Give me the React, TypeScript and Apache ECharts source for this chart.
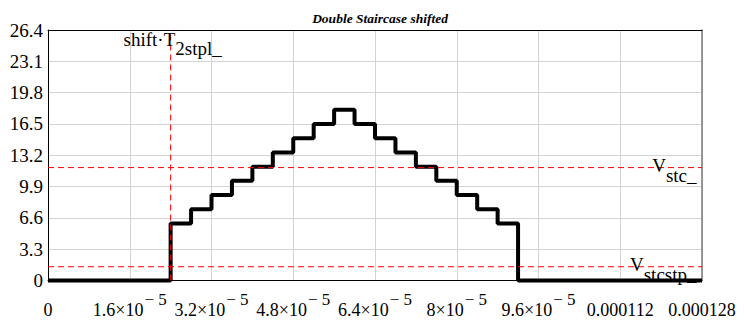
import React, { useEffect, useRef } from 'react';
import * as echarts from 'echarts';

// Step waveform: level holds from stepTimes[i] until stepTimes[i+1]
const stepTimes = [
  0, 2.4e-5, 2.8e-5, 3.2e-5, 3.6e-5, 4.0e-5, 4.4e-5, 4.8e-5, 5.2e-5, 5.6e-5,
  6.0e-5, 6.4e-5, 6.8e-5, 7.2e-5, 7.6e-5, 8.0e-5, 8.4e-5, 8.8e-5, 9.2e-5, 1.28e-4,
];
const stepLevels = [
  0, 6, 7.5, 9, 10.5, 12, 13.5, 15, 16.5, 18,
  16.5, 15, 13.5, 12, 10.5, 9, 7.5, 6, 0, 0,
];

const xTickBase = ['0', '1.6×10', '3.2×10', '4.8×10', '6.4×10', '8×10', '9.6×10', '0.000112', '0.000128'];
const xTickExp = ['', '− 5', '− 5', '− 5', '− 5', '− 5', '− 5', '', ''];
const yTickLabels = ['0', '3.3', '6.6', '9.9', '13.2', '16.5', '19.8', '23.1', '26.4'];

const shiftTime = 2.4e-5;
const vStc = 11.9;
const vStcStp = 1.45;

const X_MAX = 1.28e-4;
const X_STEP = 1.6e-5;
const Y_MAX = 26.4;
const Y_STEP = 3.3;

const FONT = 'Liberation Serif';

export default function App() {
  const ref = useRef<HTMLDivElement>(null);
  useEffect(() => {
    const chart = echarts.init(ref.current as HTMLDivElement, null, { renderer: 'svg' });
    const seriesData = stepTimes.map((t, i) => [t, stepLevels[i]]);
    const red = '#ff0000';
    const dashSeries = (data: number[][], label?: { coord: number[]; text: string; pos: string; dist: number; rich: any; offset?: number[] }) => ({
      type: 'line',
      data,
      symbol: 'none',
      silent: true,
      clip: false,
      z: 3,
      color: red,
      lineStyle: { color: red, width: 1, type: [6, 4] },
      emphasis: { disabled: true },
      markPoint: label
        ? {
            silent: true,
            symbol: 'circle',
            symbolSize: 1,
            itemStyle: { color: 'rgba(0,0,0,0)' },
            data: [{ coord: label.coord }],
            label: {
              show: true,
              position: label.pos,
              distance: label.dist,
              offset: label.offset || [0, 0],
              formatter: label.text,
              rich: label.rich,
            },
          }
        : undefined,
    });
    const vRich = {
      v: { fontFamily: FONT, fontSize: 19, color: '#000', lineHeight: 22, padding: [0, 0, 4, 0] },
      u: { fontFamily: FONT, fontSize: 19, color: '#000', lineHeight: 22, padding: [16, 0, 0, 0] },
    };
    const shiftRich = {
      a: { fontFamily: FONT, fontSize: 19, color: '#000', lineHeight: 22, padding: [0, 0, 9, 0] },
      b: { fontFamily: FONT, fontSize: 19, color: '#000', lineHeight: 22, padding: [9, 0, 0, 0] },
    };
    chart.setOption({
      animation: false,
      textStyle: { fontFamily: FONT, color: '#000' },
      title: {
        text: 'Double Staircase shifted',
        left: 375,
        top: 6,
        textAlign: 'center',
        textStyle: { fontFamily: FONT, fontSize: 13.5, fontWeight: 'bold', fontStyle: 'italic', color: '#000' },
      },
      grid: { left: 48, right: 42, top: 30, bottom: 44 },
      xAxis: [
        {
          type: 'value',
          min: 0,
          max: X_MAX,
          interval: X_STEP,
          axisLine: { show: true, onZero: false, lineStyle: { color: '#000', width: 1 } },
          axisTick: { show: false },
          splitLine: { show: true, lineStyle: { color: '#d3d3d3', width: 1 } },
          axisLabel: {
            margin: 9,
            hideOverlap: false,
            showMinLabel: true,
            showMaxLabel: true,
            fontFamily: FONT,
            color: '#000',
            formatter: (v: number) => {
              const i = Math.round(v / X_STEP);
              const e = xTickExp[i];
              return `{b|${xTickBase[i]}}` + (e ? `{s|${e}}` : '');
            },
            rich: {
              b: { fontFamily: FONT, fontSize: 18, color: '#000', lineHeight: 40 },
              s: { fontFamily: FONT, fontSize: 17, color: '#000', lineHeight: 18, padding: [0, 0, 20, 1] },
            },
          },
        },
        {
          type: 'value',
          position: 'top',
          min: 0,
          max: X_MAX,
          interval: X_STEP,
          axisLine: { show: true, onZero: false, lineStyle: { color: '#000', width: 1 } },
          axisTick: { show: false },
          axisLabel: { show: false },
          splitLine: { show: false },
        },
      ],
      yAxis: [
        {
          type: 'value',
          min: 0,
          max: Y_MAX,
          interval: Y_STEP,
          axisLine: { show: true, onZero: false, lineStyle: { color: '#000', width: 1 } },
          axisTick: { show: false },
          splitLine: { show: true, lineStyle: { color: '#d3d3d3', width: 1 } },
          axisLabel: {
            margin: 5,
            fontFamily: FONT,
            fontSize: 19,
            color: '#000',
            formatter: (v: number) => yTickLabels[Math.round(v / Y_STEP)],
          },
        },
        {
          type: 'value',
          position: 'right',
          min: 0,
          max: Y_MAX,
          interval: Y_STEP,
          axisLine: { show: true, onZero: false, lineStyle: { color: '#7a7a7a', width: 1.5 } },
          axisTick: { show: false },
          axisLabel: { show: false },
          splitLine: { show: false },
        },
      ],
      series: [
        {
          type: 'line',
          data: seriesData,
          step: 'end',
          symbol: 'none',
          clip: false,
          silent: true,
          color: '#000',
          lineStyle: { color: '#000', width: 4 },
          z: 2,
        },
        dashSeries([[shiftTime, 0], [shiftTime, Y_MAX]], {
          coord: [shiftTime, Y_MAX],
          text: '{a|shift·T}{b|2stpl_}',
          pos: 'bottom',
          dist: 2,
          offset: [2, 0],
          rich: shiftRich,
        }),
        dashSeries([[0, vStc], [X_MAX, vStc]], {
          coord: [X_MAX, vStc],
          text: '{v|V}{u|stc_}',
          pos: 'left',
          dist: 5,
          rich: vRich,
        }),
        dashSeries([[0, vStcStp], [X_MAX, vStcStp]], {
          coord: [X_MAX, vStcStp],
          text: '{v|V}{u|stcstp_}',
          pos: 'left',
          dist: 5,
          rich: vRich,
        }),
      ],
    });
    return () => chart.dispose();
  }, []);
  return (
    <div
      ref={ref}
      style={{ position: 'fixed', left: 0, top: 0, width: 744, height: 328, background: '#fff' }}
    />
  );
}
